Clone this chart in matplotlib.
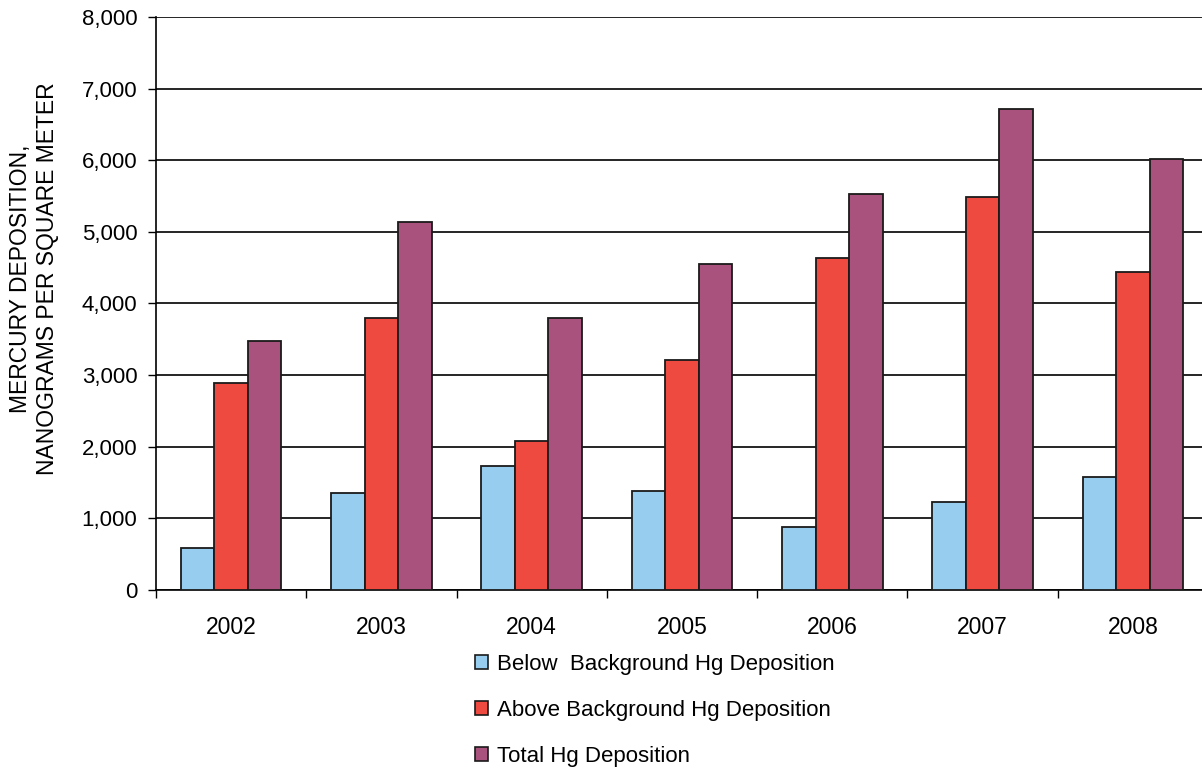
import matplotlib
matplotlib.use("Agg")
import matplotlib.pyplot as plt
from matplotlib.patches import Patch
from matplotlib.ticker import FuncFormatter, FixedLocator
import numpy as np

years = ["2002", "2003", "2004", "2005", "2006", "2007", "2008"]
below_bg = [590, 1350, 1730, 1380, 880, 1230, 1580]
above_bg = [2895, 3800, 2078, 3212, 4642, 5490, 4440]
total_hg = [3480, 5140, 3803, 4557, 5522, 6720, 6013]

series_labels = ["Below  Background Hg Deposition",
                 "Above Background Hg Deposition",
                 "Total Hg Deposition"]
colors = ["#97CEF0", "#EF4A40", "#AA527E"]

plt.rcParams["font.family"] = ["Liberation Sans", "DejaVu Sans"]

fig = plt.figure(figsize=(12.02, 7.68), dpi=100)
ax = fig.add_axes([156 / 1202, 1 - 590 / 768, (1208 - 156) / 1202, (590 - 17) / 768])

x = np.arange(len(years)) + 0.5
w = 0.223
for k, (vals, col) in enumerate(zip([below_bg, above_bg, total_hg], colors)):
    ax.bar(x + (k - 1) * w, vals, width=w, color=col, edgecolor="#1a1a1a",
           linewidth=1.3, zorder=3)

ax.set_xlim(0, len(years))
ax.set_ylim(0, 8000)
ax.set_yticks(np.arange(0, 8001, 1000))
ax.yaxis.set_major_formatter(FuncFormatter(lambda v, p: f"{int(v):,}"))
ax.yaxis.grid(True, color="black", linewidth=1.2, zorder=0)

ax.xaxis.set_major_locator(FixedLocator(np.arange(0, len(years) + 1)))
ax.xaxis.set_minor_locator(FixedLocator(x))
ax.set_xticklabels([])
ax.set_xticklabels(years, minor=True)
ax.tick_params(axis="x", which="major", length=6, width=1, direction="out")
ax.tick_params(axis="x", which="minor", length=0, pad=18.5, labelsize=16.5)
ax.tick_params(axis="y", length=6, width=1, direction="out", labelsize=16, pad=7.5)

for s in ["top", "right"]:
    ax.spines[s].set_visible(False)
for s in ["left", "bottom"]:
    ax.spines[s].set_linewidth(1.2)

fig.text(34 / 1202, 1 - 279 / 768,
         "MERCURY DEPOSITION,\nNANOGRAMS PER SQUARE METER",
         rotation=90, ha="center", va="center", multialignment="center",
         fontsize=16.5, linespacing=1.22)

handles = [Patch(facecolor=c, edgecolor="#1a1a1a", linewidth=1.2) for c in colors]
fig.legend(handles, series_labels, loc="upper left",
           bbox_to_anchor=(475 / 1202, 1 - 654 / 768),
           frameon=False, fontsize=16, handlelength=0.59, handleheight=0.59,
           handletextpad=0.4, labelspacing=1.12, borderpad=0, borderaxespad=0)

fig.savefig("out.png", dpi=100)
